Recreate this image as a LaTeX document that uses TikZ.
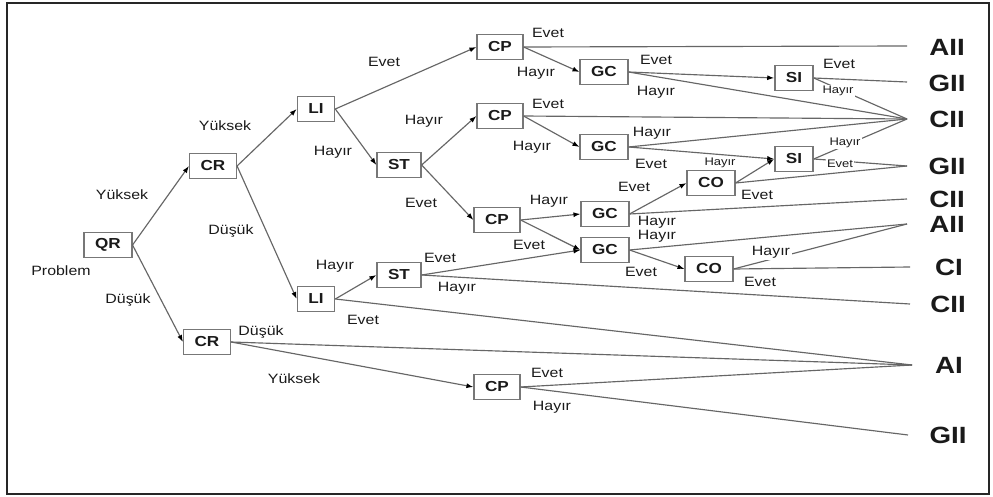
\documentclass[tikz,border=0pt]{standalone}
\usepackage{fontspec}
\setmainfont{Liberation Sans}[FakeStretch=1.18]
\usetikzlibrary{arrows.meta}
\definecolor{linegray}{HTML}{666666}
\definecolor{boxgray}{HTML}{777777}
\definecolor{inkgray}{HTML}{1A1A1A}
\begin{document}
\begin{tikzpicture}[x=1pt,y=-1pt,
  dbox/.style={draw=boxgray, line width=1.4pt, fill=white, minimum height=25pt,
    inner xsep=11pt, inner ysep=0pt, font=\fontsize{14.5}{16}\selectfont\bfseries, text=inkgray},
  lbl/.style={font=\fontsize{13.5}{15}\selectfont, text=inkgray, inner sep=1pt},
  tinylbl/.style={lbl, font=\fontsize{11}{13}\selectfont, fill=white, inner sep=1.5pt},
  outcome/.style={font=\fontsize{23.5}{26}\selectfont\bfseries, text=inkgray},
  conn/.style={draw=linegray, line width=1.15pt},
  arr/.style={conn, -{Latex[length=7pt,width=5pt,color=black]}}
]
% canvas and frame
\useasboundingbox (0,0) rectangle (993,497);
\fill[white] (0,0) rectangle (993,497);
\draw[line width=2pt, black!85] (7,3) rectangle (989,494);

% decision boxes
\node[dbox] (QR)  at (108,245) {QR};
\node[dbox] (CR1) at (213,166) {CR};
\node[dbox] (CR2) at (207,342) {CR};
\node[dbox] (LI1) at (316,109) {LI};
\node[dbox] (LI2) at (316,299) {LI};
\node[dbox] (ST1) at (399,165) {ST};
\node[dbox] (ST2) at (399,275) {ST};
\node[dbox] (CP1) at (500,47)  {CP};
\node[dbox] (CP2) at (500,116) {CP};
\node[dbox] (CP3) at (497,220) {CP};
\node[dbox] (CP4) at (497,387) {CP};
\node[dbox] (GC1) at (604,72)  {GC};
\node[dbox] (GC2) at (604,147) {GC};
\node[dbox] (GC3) at (605,214) {GC};
\node[dbox] (GC4) at (605,250) {GC};
\node[dbox] (CO1) at (711,183) {CO};
\node[dbox] (CO2) at (709,269) {CO};
\node[dbox] (SI1) at (794,78)  {SI};
\node[dbox] (SI2) at (794,159) {SI};

% decision styles (leaves)
\node[outcome] (oAIIa)  at (947,47)  {AII};
\node[outcome] (oGIIa)  at (947,83)  {GII};
\node[outcome] (oCIIa)  at (947,119) {CII};
\node[outcome] (oGIIb)  at (947,166) {GII};
\node[outcome] (oCIIb)  at (947,199) {CII};
\node[outcome] (oAIIb)  at (947,224) {AII};
\node[outcome] (oCI)    at (949,267) {CI};
\node[outcome] (oCIIc)  at (948,304) {CII};
\node[outcome] (oAI)    at (949,365) {AI};
\node[outcome] (oGIIc)  at (948,435) {GII};

% meeting points in front of the leaves
\coordinate (pAIIa) at (907,46);
\coordinate (pGIIa) at (907,82);
\coordinate (pCIIa) at (907,119);
\coordinate (pGIIb) at (907,166);
\coordinate (pCIIb) at (907,199);
\coordinate (pAIIb) at (907,224);
\coordinate (pCI)   at (910,267);
\coordinate (pCIIc) at (910,304);
\coordinate (pAI)   at (912,365);
\coordinate (pGIIc) at (908,435);

% branches between decisions
\draw[arr] (QR.east) -- (CR1.west);
\draw[arr] (QR.east) -- (CR2.west);
\draw[arr] (CR1.east) -- (LI1.west);
\draw[arr] (CR1.east) -- (LI2.west);
\draw[arr] (LI1.east) -- (CP1.west);
\draw[arr] (LI1.east) -- (ST1.west);
\draw[arr] (ST1.east) -- (CP2.west);
\draw[arr] (ST1.east) -- (CP3.west);
\draw[arr] (CP1.east) -- (GC1.west);
\draw[arr] (CP2.east) -- (GC2.west);
\draw[arr] (CP3.east) -- (GC3.west);
\draw[arr] (CP3.east) -- (GC4.west);
\draw[arr] (GC1.east) -- (SI1.west);
\draw[arr] (GC2.east) -- (SI2.west);
\draw[arr] (GC3.east) -- (CO1.west);
\draw[arr] (CO1.east) -- (SI2.west);
\draw[arr] (GC4.east) -- (CO2.west);
\draw[arr] (LI2.east) -- (ST2.west);
\draw[arr] (ST2.east) -- (GC4.west);
\draw[arr] (CR2.east) -- (CP4.west);

% branches ending in a leaf
\draw[conn] (CP1.east) -- (pAIIa);
\draw[conn] (SI1.east) -- (pGIIa);
\draw[conn] (SI1.east) -- (pCIIa);
\draw[conn] (GC1.east) -- (pCIIa);
\draw[conn] (CP2.east) -- (pCIIa);
\draw[conn] (GC2.east) -- (pCIIa);
\draw[conn] (SI2.east) -- (pCIIa);
\draw[conn] (SI2.east) -- (pGIIb);
\draw[conn] (CO1.east) -- (pGIIb);
\draw[conn] (GC3.east) -- (pCIIb);
\draw[conn] (GC4.east) -- (pAIIb);
\draw[conn] (CO2.east) -- (pAIIb);
\draw[conn] (CO2.east) -- (pCI);
\draw[conn] (ST2.east) -- (pCIIc);
\draw[conn] (LI2.east) -- (pAI);
\draw[conn] (CR2.east) -- (pAI);
\draw[conn] (CP4.east) -- (pAI);
\draw[conn] (CP4.east) -- (pGIIc);

% branch labels
\node[lbl] (tProblem) at (61,271)  {Problem};
\node[lbl] (t01) at (122,195) {Yüksek};
\node[lbl] (t02) at (128,300) {Düşük};
\node[lbl] (t03) at (225,126) {Yüksek};
\node[lbl] (t04) at (231,231) {Düşük};
\node[lbl] (t05) at (384,62)  {Evet};
\node[lbl] (t06) at (333,152) {Hayır};
\node[lbl] (t07) at (424,121) {Hayır};
\node[lbl] (t08) at (421,203) {Evet};
\node[lbl] (t09) at (548,33)  {Evet};
\node[lbl] (t10) at (536,73)  {Hayır};
\node[lbl] (t11) at (548,104) {Evet};
\node[lbl] (t12) at (532,147) {Hayır};
\node[lbl] (t13) at (549,201) {Hayır};
\node[lbl] (t14) at (529,245) {Evet};
\node[lbl] (t15) at (656,60)  {Evet};
\node[lbl] (t16) at (656,92)  {Hayır};
\node[lbl] (t17) at (652,133) {Hayır};
\node[lbl] (t18) at (651,164) {Evet};
\node[lbl] (t19) at (634,187) {Evet};
\node[lbl] (t20) at (657,222) {Hayır};
\node[lbl] (t21) at (657,236) {Hayır};
\node[lbl] (t22) at (641,272) {Evet};
\node[tinylbl] (t23) at (720,163) {Hayır};
\node[lbl] (t24) at (757,195) {Evet};
\node[lbl] (t25) at (839,64)  {Evet};
\node[tinylbl] (t26) at (838,91)  {Hayır};
\node[tinylbl] (t27) at (845,143) {Hayır};
\node[tinylbl] (t28) at (840,164) {Evet};
\node[lbl, fill=white, inner sep=2pt] (t29) at (771,252) {Hayır};
\node[lbl] (t30) at (760,282) {Evet};
\node[lbl] (t31) at (335,266) {Hayır};
\node[lbl] (t32) at (363,320) {Evet};
\node[lbl] (t33) at (440,258) {Evet};
\node[lbl] (t34) at (457,288) {Hayır};
\node[lbl] (t35) at (261,332) {Düşük};
\node[lbl] (t36) at (294,379) {Yüksek};
\node[lbl] (t37) at (547,373) {Evet};
\node[lbl] (t38) at (552,407) {Hayır};
\end{tikzpicture}
\end{document}
